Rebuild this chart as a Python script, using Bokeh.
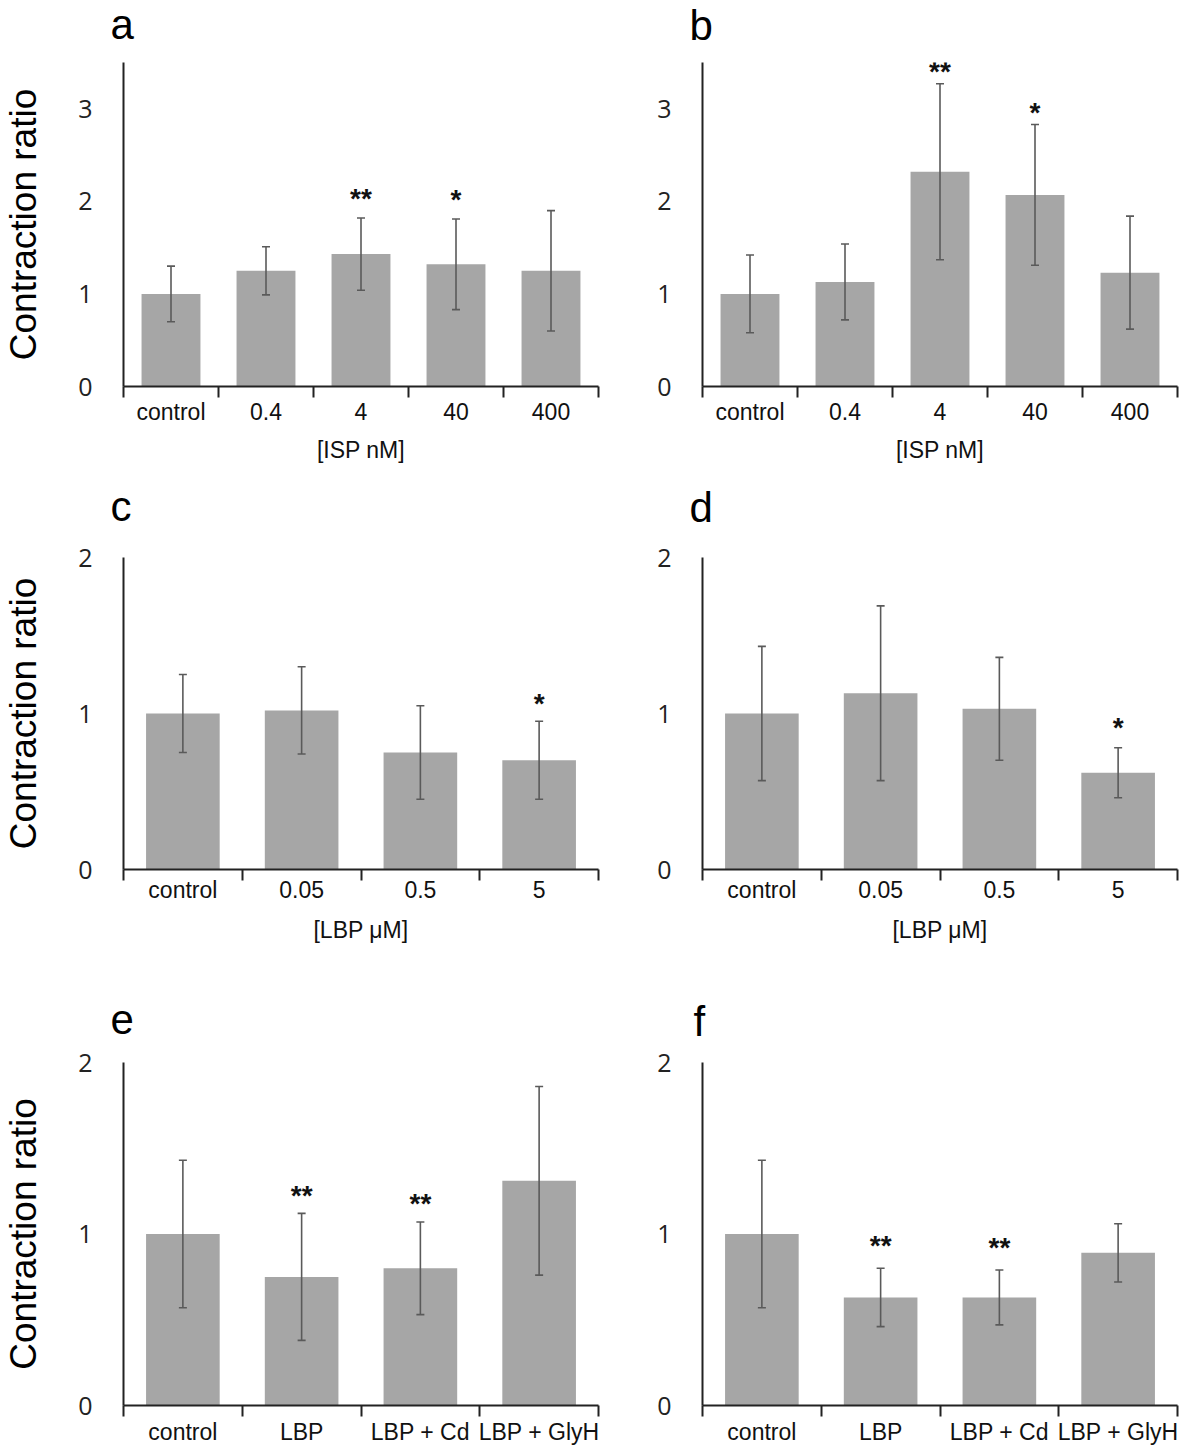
from bokeh.plotting import figure
from bokeh.models import ColumnDataSource, Whisker, TeeHead, FixedTicker, Range1d
from bokeh.layouts import column, row
from bokeh.core.properties import value
from bokeh.embed import file_html
from bokeh.resources import INLINE

# ---------------- data ----------------
isp_labels = ["control", "0.4", "4", "40", "400"]
lbp_labels = ["control", "0.05", "0.5", "5"]
inh_labels = ["control", "LBP", "LBP + Cd", "LBP + GlyH"]

a_mean = [1.00, 1.25, 1.43, 1.32, 1.25]
a_err = [0.30, 0.26, 0.39, 0.49, 0.65]
a_sig = ["", "", "**", "*", ""]

b_mean = [1.00, 1.13, 2.32, 2.07, 1.23]
b_err = [0.42, 0.41, 0.95, 0.76, 0.61]
b_sig = ["", "", "**", "*", ""]

c_mean = [1.00, 1.02, 0.75, 0.70]
c_err = [0.25, 0.28, 0.30, 0.25]
c_sig = ["", "", "", "*"]

d_mean = [1.00, 1.13, 1.03, 0.62]
d_err = [0.43, 0.56, 0.33, 0.16]
d_sig = ["", "", "", "*"]

e_mean = [1.00, 0.75, 0.80, 1.31]
e_err = [0.43, 0.37, 0.27, 0.55]
e_sig = ["", "**", "**", ""]

f_mean = [1.00, 0.63, 0.63, 0.89]
f_err = [0.43, 0.17, 0.16, 0.17]
f_sig = ["", "**", "**", ""]

panel_letters = ["a", "b", "c", "d", "e", "f"]
y_ticks_isp = [0, 1, 2, 3]
y_ticks_lbp = [0, 1, 2]

BAR = "#a6a6a6"
ERR = "#5a5a5a"
AX = "#222222"
FONT = "Liberation Sans"
LETTER_PX = 42
LETTER_SHIFT = 16  # compensation of the rendered baseline


def no_title(p):
    p.title_location = None
    p.title.visible = False
    p.title.text_font_size = "0px"
    p.title.standoff = 0


def letter_fig(letter, width, height, x_px, baseline_from_top):
    p = figure(width=width, height=height, x_range=Range1d(0, width), y_range=Range1d(0, height),
               x_axis_type=None, y_axis_type=None,
               output_backend="svg", toolbar_location=None,
               min_border_left=0, min_border_right=0, min_border_top=0, min_border_bottom=0)
    no_title(p)
    p.outline_line_color = None
    p.text(x=[x_px], y=[height - baseline_from_top + LETTER_SHIFT], text=[letter],
           text_align="left", text_baseline="alphabetic", text_font=value(FONT),
           text_font_size=f"{LETTER_PX}px", text_color="#000000")
    return p


def panel(labels, mean, err, sig, ymax, yticks, xtitle, width, height,
          left, right, axis_top, baseline, ylabel, tick_standoff, xtitle_standoff, star_off):
    n = len(labels)
    centers = [i + 0.5 for i in range(n)]
    bounds = list(range(n + 1))
    src = ColumnDataSource(dict(
        x=centers, mean=mean,
        upper=[m + e for m, e in zip(mean, err)],
        lower=[m - e for m, e in zip(mean, err)],
        sig=sig,
    ))
    p = figure(width=width, height=height, x_range=Range1d(0, n), y_range=Range1d(0, ymax),
               output_backend="svg", toolbar_location=None,
               min_border_left=left, min_border_right=right,
               min_border_top=axis_top, min_border_bottom=height - baseline)
    no_title(p)
    p.outline_line_color = None
    p.xgrid.visible = False
    p.ygrid.visible = False

    p.vbar(x="x", top="mean", width=0.62, bottom=0, source=src,
           fill_color=BAR, line_color=None)
    w = Whisker(source=src, base="x", upper="upper", lower="lower", dimension="height",
                line_color=ERR, line_width=1.6, level="overlay",
                upper_head=TeeHead(size=8, line_color=ERR, line_width=1.6),
                lower_head=TeeHead(size=8, line_color=ERR, line_width=1.6))
    p.add_layout(w)
    p.text(x="x", y="upper", text="sig", source=src, text_align="center",
           text_baseline="alphabetic", y_offset=star_off,
           text_font=value(FONT), text_font_size="28px", text_font_style="bold",
           text_color="#111111")

    # x axis: labels at centres, tick marks at category boundaries
    xa = p.xaxis[0]
    xa.ticker = FixedTicker(ticks=centers, minor_ticks=bounds)
    xa.major_label_overrides = {c: l for c, l in zip(centers, labels)}
    xa.major_tick_out = 0
    xa.major_tick_in = 0
    xa.minor_tick_out = 11
    xa.minor_tick_in = 0
    xa.minor_tick_line_color = AX
    xa.minor_tick_line_width = 2
    xa.axis_line_color = AX
    xa.axis_line_width = 2
    xa.major_label_standoff = tick_standoff
    xa.major_label_text_font = FONT
    xa.major_label_text_font_size = "23px"
    xa.major_label_text_color = "#111111"
    if xtitle:
        xa.axis_label = xtitle
        xa.axis_label_text_font = FONT
        xa.axis_label_text_font_size = "23px"
        xa.axis_label_text_font_style = "normal"
        xa.axis_label_text_color = "#111111"
        xa.axis_label_standoff = xtitle_standoff

    ya = p.yaxis[0]
    ya.ticker = FixedTicker(ticks=yticks)
    ya.major_tick_out = 0
    ya.major_tick_in = 0
    ya.minor_tick_line_color = None
    ya.axis_line_color = AX
    ya.axis_line_width = 2
    ya.major_label_standoff = 31
    ya.major_label_text_font = "Open Sans"
    ya.major_label_text_font_size = "25px"
    ya.major_label_text_color = "#222222"
    if ylabel:
        ya.axis_label = "Contraction ratio"
        ya.axis_label_text_font = FONT
        ya.axis_label_text_font_size = "37px"
        ya.axis_label_text_font_style = "normal"
        ya.axis_label_text_color = "#000000"
        ya.axis_label_standoff = 31
    return p


W1, W2 = 610, 571
L1, R1 = 122, 12
L2, R2 = 92, 4

# row 1 : letters 0..45, panels 45..480
la = letter_fig(panel_letters[0], W1, 45, 110, 40)
lb = letter_fig(panel_letters[1], W2, 45, 79, 41)
pa = panel(isp_labels, a_mean, a_err, a_sig, 3.5, y_ticks_isp, "[ISP nM]",
           W1, 435, L1, R1, 17, 341, True, 1, 9, -19.5)
pb = panel(isp_labels, b_mean, b_err, b_sig, 3.5, y_ticks_isp, "[ISP nM]",
           W2, 435, L2, R2, 17, 341, False, 1, 9, -12)
# row 2 : letters 480..545, panels 545..990
lc = letter_fig(panel_letters[2], W1, 65, 110, 42)
ld = letter_fig(panel_letters[3], W2, 65, 79, 43)
pc = panel(lbp_labels, c_mean, c_err, c_sig, 2.0, y_ticks_lbp, "[LBP μM]",
           W1, 445, L1, R1, 12, 324, True, -4, 11, -17.5)
pd = panel(lbp_labels, d_mean, d_err, d_sig, 2.0, y_ticks_lbp, "[LBP μM]",
           W2, 445, L2, R2, 12, 324, False, -4, 11, -20.5)
# row 3 : letters 990..1050, panels 1050..1447
le = letter_fig(panel_letters[4], W1, 60, 110, 45)
lf = letter_fig(panel_letters[5], W2, 60, 83, 47)
pe = panel(inh_labels, e_mean, e_err, e_sig, 2.0, y_ticks_lbp, None,
           W1, 397, L1, R1, 12, 358, True, 2, 0, -18)
pf = panel(inh_labels, f_mean, f_err, f_sig, 2.0, y_ticks_lbp, None,
           W2, 397, L2, R2, 12, 358, False, 2, 0, -22.5)

layout = column(row(la, lb), row(pa, pb), row(lc, ld), row(pc, pd), row(le, lf), row(pe, pf))
open("out.html", "w").write(file_html(layout, INLINE))
